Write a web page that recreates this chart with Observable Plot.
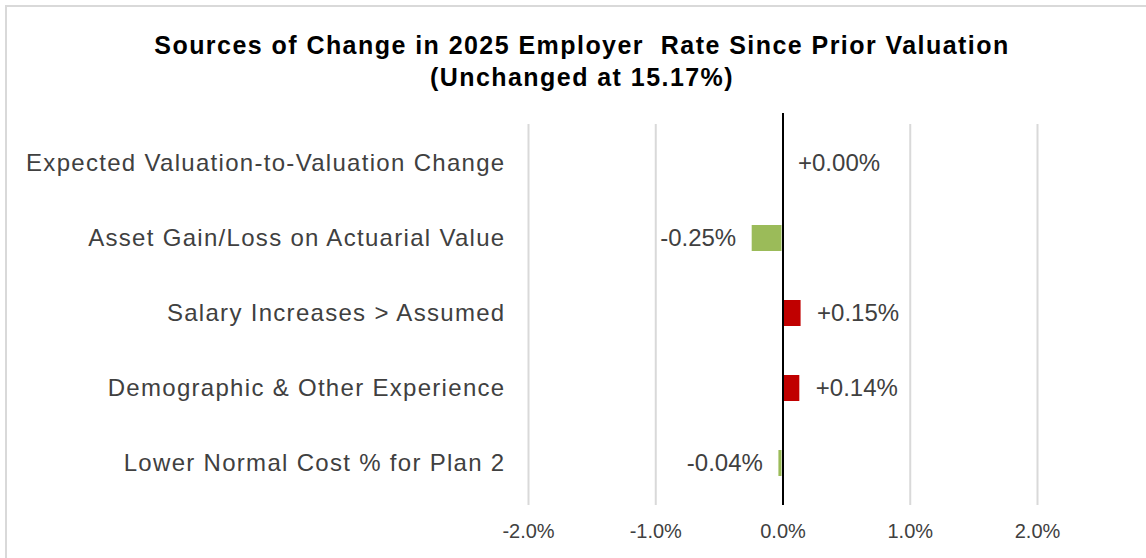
<!DOCTYPE html>
<html>
<head>
<meta charset="utf-8">
<script src="https://cdn.jsdelivr.net/npm/d3@7"></script>
<script src="https://cdn.jsdelivr.net/npm/@observablehq/plot@0.6"></script>
<style>
  html, body { margin: 0; padding: 0; background: #fff; }
  #wrap { position: relative; width: 1146px; height: 558px; overflow: hidden; font-family: "Liberation Sans", Arial, sans-serif; }
  #frame { position: absolute; left: 5px; top: 5px; width: 1200px; height: 600px; border-top: 2px solid #d9d9d9; border-left: 2px solid #d9d9d9; }
  #title { position: absolute; left: 0; top: 29px; width: 1164px; text-align: center; font-weight: bold; font-size: 25px; line-height: 32px; letter-spacing: 1.45px; color: #000; }
  #chart { position: absolute; left: 0; top: 100px; }
</style>
</head>
<body>
<div id="wrap">
  <div id="frame"></div>
  <div id="title">Sources of Change in 2025 Employer&nbsp; Rate Since Prior Valuation<br>(Unchanged at 15.17%)</div>
  <div id="chart"></div>
</div>
<script>
const categories = [
  "Expected Valuation-to-Valuation Change",
  "Asset Gain/Loss on Actuarial Value",
  "Salary Increases > Assumed",
  "Demographic & Other Experience",
  "Lower Normal Cost % for Plan 2"
];
const values = [0.00, -0.25, 0.15, 0.14, -0.04];
const xTicks = [-2, -1, 0, 1, 2];

const data = categories.map((c, i) => ({category: c, value: values[i]}));
const GREEN = "#9BBB59", RED = "#C00000", TEXT = "#404040";
const fmtVal = v => (v >= 0 ? "+" : "-") + Math.abs(v).toFixed(2) + "%";

const chart = Plot.plot({
  width: 1146,
  height: 458,
  marginLeft: 528,
  marginRight: 109,
  marginTop: 23,
  marginBottom: 55,
  style: {fontFamily: "'Liberation Sans', Arial, sans-serif", color: TEXT, background: "transparent"},
  x: {domain: [-2, 2], ticks: xTicks, tickFormat: d => d.toFixed(1) + "%"},
  y: {domain: categories, paddingInner: 0.655, paddingOuter: 0.34},
  color: {type: "identity"},
  marks: [
    Plot.ruleX(xTicks.filter(d => d !== 0), {stroke: "#d9d9d9", strokeWidth: 2, insetTop: 1, insetBottom: -2}),
    Plot.barX(data, {y: "category", x1: 0, x2: "value", fill: d => d.value < 0 ? GREEN : RED, insetLeft: 1, insetRight: 1}),
    Plot.ruleX([0], {stroke: "#000", strokeWidth: 2, insetTop: -10, insetBottom: -2}),
    Plot.text(data.filter(d => d.value >= 0), {y: "category", x: "value", text: d => fmtVal(d.value), textAnchor: "start", dx: 15, fontSize: 24, fill: TEXT}),
    Plot.text(data.filter(d => d.value < 0), {y: "category", x: "value", text: d => fmtVal(d.value), textAnchor: "end", dx: -15, fontSize: 24, fill: TEXT}),
    Plot.axisY({tickSize: 0, tickPadding: 23, fontSize: 24, label: null, fill: TEXT}),
    Plot.axisX({ticks: xTicks, tickFormat: d => d.toFixed(1) + "%", tickSize: 0, tickPadding: 20, fontSize: 20, label: null, fill: TEXT})
  ]
});
d3.select(chart).selectAll("[aria-label='y-axis tick label'] text").style("letter-spacing", "1.3px");
document.getElementById("chart").appendChild(chart);
</script>
</body>
</html>
